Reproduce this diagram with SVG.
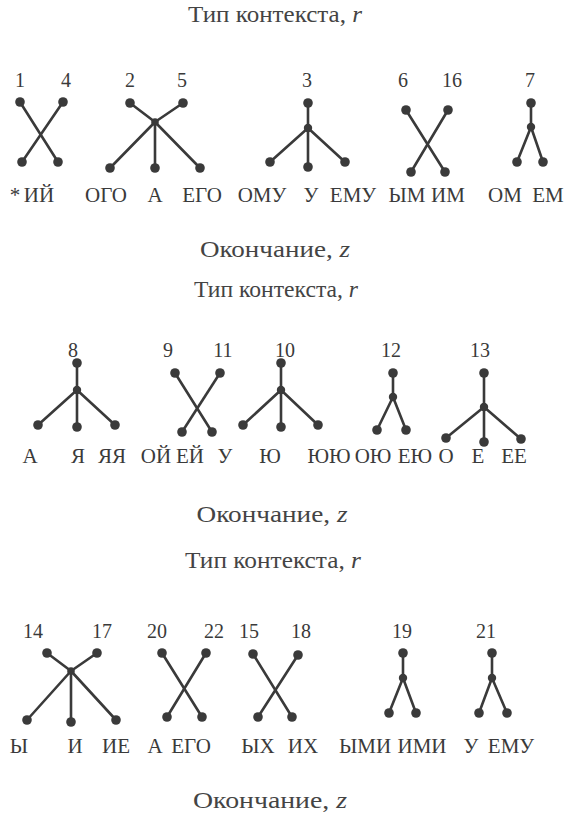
<svg xmlns="http://www.w3.org/2000/svg" width="576" height="820" viewBox="0 0 576 820">
<style>
  .t { font-family: "Liberation Serif", "Times New Roman", serif; fill: #3a3a3a; }
  .title { font-size: 23px; text-anchor: middle; fill: #444444; }
  .num { font-size: 20px; text-anchor: middle; }
  .lab { font-size: 21px; text-anchor: middle; }
  .it { font-style: italic; }
  .e { stroke: #3a3a3a; stroke-width: 2.6; stroke-linecap: round; fill: none; }
  .d { fill: #3a3a3a; }
</style>
<rect width="576" height="820" fill="#ffffff"/>

<!-- Titles -->
<g id="titles">
  <text class="t title" x="275" y="22" textLength="174" lengthAdjust="spacingAndGlyphs">Тип контекста, <tspan class="it">r</tspan></text>
  <text class="t title" x="275" y="257" textLength="150" lengthAdjust="spacingAndGlyphs">Окончание, <tspan class="it">z</tspan></text>
  <text class="t title" x="276" y="297" textLength="164" lengthAdjust="spacingAndGlyphs">Тип контекста, <tspan class="it">r</tspan></text>
  <text class="t title" x="272" y="522" textLength="151" lengthAdjust="spacingAndGlyphs">Окончание, <tspan class="it">z</tspan></text>
  <text class="t title" x="273" y="568" textLength="176" lengthAdjust="spacingAndGlyphs">Тип контекста, <tspan class="it">r</tspan></text>
  <text class="t title" x="270" y="808" textLength="154" lengthAdjust="spacingAndGlyphs">Окончание, <tspan class="it">z</tspan></text>
</g>

<!-- Connectors -->
<g id="connectors" class="e">
  <!-- row 1 -->
  <line x1="20" y1="102" x2="58" y2="162"/>
  <line x1="63" y1="102" x2="22" y2="162"/>
  <line x1="130" y1="103" x2="155" y2="122"/>
  <line x1="183" y1="103" x2="155" y2="122"/>
  <line x1="155" y1="122" x2="110" y2="168"/>
  <line x1="155" y1="122" x2="155" y2="168"/>
  <line x1="155" y1="122" x2="200" y2="168"/>
  <line x1="308" y1="103" x2="308" y2="167"/>
  <line x1="308" y1="128" x2="270" y2="162"/>
  <line x1="308" y1="128" x2="345" y2="162"/>
  <line x1="406" y1="110" x2="445" y2="172"/>
  <line x1="448" y1="110" x2="411" y2="172"/>
  <line x1="531" y1="103" x2="531" y2="127"/>
  <line x1="531" y1="127" x2="517" y2="162"/>
  <line x1="531" y1="127" x2="543" y2="162"/>
  <!-- row 2 -->
  <line x1="77" y1="363" x2="77" y2="427"/>
  <line x1="77" y1="390" x2="38" y2="425"/>
  <line x1="77" y1="390" x2="115" y2="425"/>
  <line x1="175" y1="373" x2="212" y2="432"/>
  <line x1="220" y1="373" x2="182" y2="432"/>
  <line x1="281" y1="363" x2="281" y2="427"/>
  <line x1="281" y1="390" x2="243" y2="425"/>
  <line x1="281" y1="390" x2="318" y2="425"/>
  <line x1="393" y1="373" x2="393" y2="397"/>
  <line x1="393" y1="397" x2="377" y2="430"/>
  <line x1="393" y1="397" x2="406" y2="430"/>
  <line x1="484" y1="373" x2="484" y2="442"/>
  <line x1="484" y1="407" x2="446" y2="438"/>
  <line x1="484" y1="407" x2="521" y2="439"/>
  <!-- row 3 -->
  <line x1="47" y1="653" x2="71" y2="671"/>
  <line x1="97" y1="653" x2="71" y2="671"/>
  <line x1="71" y1="671" x2="27" y2="720"/>
  <line x1="71" y1="671" x2="71" y2="722"/>
  <line x1="71" y1="671" x2="116" y2="720"/>
  <line x1="162" y1="653" x2="202" y2="717"/>
  <line x1="206" y1="653" x2="167" y2="717"/>
  <line x1="253" y1="654" x2="292" y2="717"/>
  <line x1="298" y1="655" x2="258" y2="717"/>
  <line x1="403" y1="653" x2="403" y2="678"/>
  <line x1="403" y1="678" x2="389" y2="713"/>
  <line x1="403" y1="678" x2="416" y2="713"/>
  <line x1="492" y1="653" x2="492" y2="678"/>
  <line x1="492" y1="678" x2="479" y2="713"/>
  <line x1="492" y1="678" x2="507" y2="713"/>
</g>

<!-- Row 1 nodes -->
<g id="tree-1-4" class="d">
  <circle cx="20" cy="102" r="4.8"/><circle cx="63" cy="102" r="4.8"/>
  <circle cx="22" cy="162" r="4.8"/><circle cx="58" cy="162" r="4.8"/>
</g>
<g id="tree-2-5" class="d">
  <circle cx="130" cy="103" r="4.8"/><circle cx="183" cy="103" r="4.8"/>
  <circle cx="155" cy="122" r="3.8"/>
  <circle cx="110" cy="168" r="4.8"/><circle cx="155" cy="168" r="4.8"/><circle cx="200" cy="168" r="4.8"/>
</g>
<g id="tree-3" class="d">
  <circle cx="308" cy="103" r="4.8"/><circle cx="308" cy="128" r="4.2"/>
  <circle cx="270" cy="162" r="4.8"/><circle cx="308" cy="167" r="4.8"/><circle cx="345" cy="162" r="4.8"/>
</g>
<g id="tree-6-16" class="d">
  <circle cx="406" cy="110" r="4.8"/><circle cx="448" cy="110" r="4.8"/>
  <circle cx="411" cy="172" r="4.8"/><circle cx="445" cy="172" r="4.8"/>
</g>
<g id="tree-7" class="d">
  <circle cx="531" cy="103" r="4.8"/><circle cx="531" cy="127" r="4.2"/>
  <circle cx="517" cy="162" r="4.8"/><circle cx="543" cy="162" r="4.8"/>
</g>

<!-- Row 2 nodes -->
<g id="tree-8" class="d">
  <circle cx="77" cy="363" r="4.8"/><circle cx="77" cy="390" r="4.2"/>
  <circle cx="38" cy="425" r="4.8"/><circle cx="77" cy="427" r="4.8"/><circle cx="115" cy="425" r="4.8"/>
</g>
<g id="tree-9-11" class="d">
  <circle cx="175" cy="373" r="4.8"/><circle cx="220" cy="373" r="4.8"/>
  <circle cx="182" cy="432" r="4.8"/><circle cx="212" cy="432" r="4.8"/>
</g>
<g id="tree-10" class="d">
  <circle cx="281" cy="363" r="4.8"/><circle cx="281" cy="390" r="4.2"/>
  <circle cx="243" cy="425" r="4.8"/><circle cx="281" cy="427" r="4.8"/><circle cx="318" cy="425" r="4.8"/>
</g>
<g id="tree-12" class="d">
  <circle cx="393" cy="373" r="4.8"/><circle cx="393" cy="397" r="4.2"/>
  <circle cx="377" cy="430" r="4.8"/><circle cx="406" cy="430" r="4.8"/>
</g>
<g id="tree-13" class="d">
  <circle cx="484" cy="373" r="4.8"/><circle cx="484" cy="407" r="4.2"/>
  <circle cx="446" cy="438" r="4.8"/><circle cx="484" cy="442" r="4.8"/><circle cx="521" cy="439" r="4.8"/>
</g>

<!-- Row 3 nodes -->
<g id="tree-14-17" class="d">
  <circle cx="47" cy="653" r="4.8"/><circle cx="97" cy="653" r="4.8"/>
  <circle cx="71" cy="671" r="3.8"/>
  <circle cx="27" cy="720" r="4.8"/><circle cx="71" cy="722" r="4.8"/><circle cx="116" cy="720" r="4.8"/>
</g>
<g id="tree-20-22" class="d">
  <circle cx="162" cy="653" r="4.8"/><circle cx="206" cy="653" r="4.8"/>
  <circle cx="167" cy="717" r="4.8"/><circle cx="202" cy="717" r="4.8"/>
</g>
<g id="tree-15-18" class="d">
  <circle cx="253" cy="654" r="4.8"/><circle cx="298" cy="655" r="4.8"/>
  <circle cx="258" cy="717" r="4.8"/><circle cx="292" cy="717" r="4.8"/>
</g>
<g id="tree-19" class="d">
  <circle cx="403" cy="653" r="4.8"/><circle cx="403" cy="678" r="4.2"/>
  <circle cx="389" cy="713" r="4.8"/><circle cx="416" cy="713" r="4.8"/>
</g>
<g id="tree-21" class="d">
  <circle cx="492" cy="653" r="4.8"/><circle cx="492" cy="678" r="4.2"/>
  <circle cx="479" cy="713" r="4.8"/><circle cx="507" cy="713" r="4.8"/>
</g>

<!-- Numbers -->
<g id="numbers" class="t num">
  <text x="20" y="87">1</text><text x="66" y="87">4</text>
  <text x="130" y="87">2</text><text x="182" y="87">5</text>
  <text x="307" y="87">3</text>
  <text x="403" y="87">6</text><text x="452" y="87">16</text>
  <text x="530" y="87">7</text>
  <text x="73" y="357">8</text>
  <text x="168" y="357">9</text><text x="223" y="357">11</text>
  <text x="285" y="357">10</text>
  <text x="391" y="357">12</text>
  <text x="480" y="357">13</text>
  <text x="33" y="638">14</text><text x="102" y="638">17</text>
  <text x="157" y="638">20</text><text x="214" y="638">22</text>
  <text x="249" y="638">15</text><text x="301" y="638">18</text>
  <text x="402" y="638">19</text>
  <text x="486" y="638">21</text>
</g>

<!-- Labels -->
<g id="labels" class="t lab">
  <text x="15" y="202">*</text>
  <text x="39" y="202">ИЙ</text>
  <text x="106" y="202">ОГО</text>
  <text x="155" y="202">А</text>
  <text x="202" y="202">ЕГО</text>
  <text x="262" y="202">ОМУ</text>
  <text x="311" y="202">У</text>
  <text x="353" y="202">ЕМУ</text>
  <text x="407" y="202">ЫМ</text>
  <text x="448" y="202">ИМ</text>
  <text x="505" y="202">ОМ</text>
  <text x="548" y="202">ЕМ</text>

  <text x="30" y="463">А</text>
  <text x="78" y="463">Я</text>
  <text x="112" y="463">ЯЯ</text>
  <text x="156" y="463">ОЙ</text>
  <text x="190" y="463">ЕЙ</text>
  <text x="225" y="463">У</text>
  <text x="270" y="463">Ю</text>
  <text x="329" y="463">ЮЮ</text>
  <text x="373" y="463">ОЮ</text>
  <text x="415" y="463">ЕЮ</text>
  <text x="446" y="463">О</text>
  <text x="478" y="463">Е</text>
  <text x="514" y="463">ЕЕ</text>

  <text x="19" y="753">Ы</text>
  <text x="75" y="753">И</text>
  <text x="116" y="753">ИЕ</text>
  <text x="155" y="753">А</text>
  <text x="191" y="753">ЕГО</text>
  <text x="258" y="753">ЫХ</text>
  <text x="303" y="753">ИХ</text>
  <text x="365" y="753">ЫМИ</text>
  <text x="422" y="753">ИМИ</text>
  <text x="471" y="753">У</text>
  <text x="511" y="753">ЕМУ</text>
</g>
</svg>
